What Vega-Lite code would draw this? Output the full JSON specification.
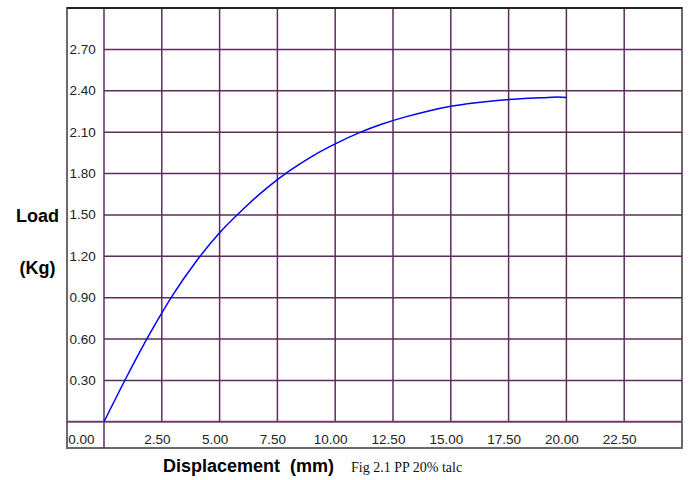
{
  "$schema": "https://vega.github.io/schema/vega-lite/v6.json",
  "autosize": {"type": "none"},
  "width": 615,
  "height": 440,
  "padding": {"left": 67, "top": 8, "right": 8, "bottom": 32},
  "background": "white",
  "config": {
    "view": {"stroke": "#6a6a6a", "strokeWidth": 2},
    "axis": {"grid": false, "ticks": false, "domain": false}
  },
  "title": {
    "text": "Fig 2.1 PP 20% talc",
    "orient": "bottom",
    "anchor": "start",
    "frame": "group",
    "dx": 284,
    "offset": -14,
    "font": "Liberation Serif",
    "fontSize": 14,
    "fontWeight": "normal",
    "color": "#111"
  },
  "datasets": {
    "curve": [
      {"disp": 0, "load": 0},
      {"disp": 1, "load": 0.332},
      {"disp": 2, "load": 0.644},
      {"disp": 3, "load": 0.926},
      {"disp": 4, "load": 1.166},
      {"disp": 5, "load": 1.371},
      {"disp": 6, "load": 1.539},
      {"disp": 7, "load": 1.689},
      {"disp": 8, "load": 1.817},
      {"disp": 9, "load": 1.925},
      {"disp": 10, "load": 2.015},
      {"disp": 11, "load": 2.093},
      {"disp": 12, "load": 2.157},
      {"disp": 13, "load": 2.209},
      {"disp": 14, "load": 2.252},
      {"disp": 15, "load": 2.287},
      {"disp": 16, "load": 2.312},
      {"disp": 17, "load": 2.33},
      {"disp": 18, "load": 2.342},
      {"disp": 19, "load": 2.35},
      {"disp": 19.6, "load": 2.354},
      {"disp": 20, "load": 2.351}
    ],
    "vgrid": [
      {"g": 2.5}, {"g": 5.0}, {"g": 7.5}, {"g": 10.0}, {"g": 12.5},
      {"g": 15.0}, {"g": 17.5}, {"g": 20.0}, {"g": 22.5}
    ],
    "hgrid": [
      {"g": 0.3}, {"g": 0.6}, {"g": 0.9}, {"g": 1.2}, {"g": 1.5},
      {"g": 1.8}, {"g": 2.1}, {"g": 2.4}, {"g": 2.7}
    ]
  },
  "layer": [
    {
      "data": {"name": "vgrid"},
      "mark": {"type": "rule", "color": "#5e2d5e", "strokeWidth": 1.5},
      "encoding": {
        "x": {"field": "g", "type": "quantitative", "scale": {"domain": [-1.6, 25], "nice": false, "zero": false}},
        "y": {"datum": 0, "type": "quantitative", "scale": {"domain": [-0.19, 3.0], "nice": false, "zero": false}},
        "y2": {"datum": 3.0}
      }
    },
    {
      "data": {"name": "hgrid"},
      "mark": {"type": "rule", "color": "#5e2d5e", "strokeWidth": 1.5},
      "encoding": {
        "y": {"field": "g", "type": "quantitative"},
        "x": {"datum": 0, "type": "quantitative"},
        "x2": {"datum": 25}
      }
    },
    {
      "data": {"values": [{"v": 0}]},
      "mark": {"type": "rule", "color": "#5e2d5e", "strokeWidth": 1.5},
      "encoding": {"x": {"field": "v", "type": "quantitative"}}
    },
    {
      "data": {"values": [{"v": 0}]},
      "mark": {"type": "rule", "color": "#6e3f6e", "strokeWidth": 2},
      "encoding": {"y": {"field": "v", "type": "quantitative"}}
    },
    {
      "data": {"values": [{"v": 3.0}]},
      "mark": {"type": "rule", "color": "#222222", "strokeWidth": 2},
      "encoding": {"y": {"field": "v", "type": "quantitative"}}
    },
    {
      "data": {"name": "curve"},
      "mark": {"type": "line", "color": "#0000ff", "strokeWidth": 1.5, "interpolate": "monotone"},
      "encoding": {
        "x": {
          "field": "disp",
          "type": "quantitative",
          "axis": {
            "values": [0, 2.5, 5, 7.5, 10, 12.5, 15, 17.5, 20, 22.5],
            "format": ".2f",
            "labelFont": "Liberation Sans",
            "labelFontSize": 13.5,
            "labelColor": "#222",
            "labelPadding": -9,
            "labelBaseline": "middle",
            "labelFlush": false,
            "labelOverlap": false,
            "labelOffset": {"condition": {"test": "datum.value == 0", "value": -23}, "value": -5},
            "title": "Displacement \u00a0(mm)",
            "titleFont": "Liberation Sans",
            "titleFontSize": 18,
            "titleFontWeight": "bold",
            "titleColor": "#000",
            "titleX": 181,
            "titleY": 23,
            "titleAlign": "center",
            "titleBaseline": "alphabetic"
          }
        },
        "y": {
          "field": "load",
          "type": "quantitative",
          "axis": {
            "values": [0.3, 0.6, 0.9, 1.2, 1.5, 1.8, 2.1, 2.4, 2.7],
            "format": ".2f",
            "labelFont": "Liberation Sans",
            "labelFontSize": 13.5,
            "labelColor": "#222",
            "labelAlign": "left",
            "labelBaseline": "middle",
            "labelPadding": -2,
            "labelFlush": false,
            "labelOverlap": false,
            "title": ["Load", "(Kg)"],
            "titleFont": "Liberation Sans",
            "titleFontSize": 18,
            "titleFontWeight": "bold",
            "titleColor": "#000",
            "titleAngle": 0,
            "titleAlign": "center",
            "titleBaseline": "middle",
            "titleLineHeight": 52,
            "titleX": -30,
            "titleY": 208
          }
        }
      }
    }
  ]
}
